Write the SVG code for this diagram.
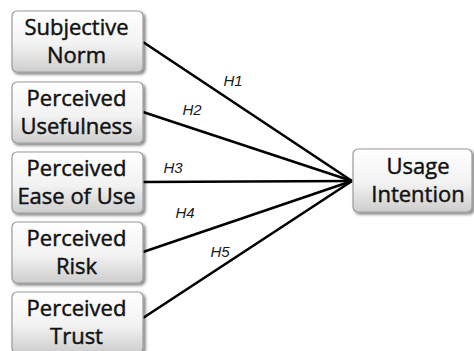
<svg xmlns="http://www.w3.org/2000/svg" width="474" height="351" viewBox="0 0 474 351">
<defs>
<linearGradient id="g" x1="0" y1="0" x2="0" y2="1">
<stop offset="0" stop-color="#ffffff"/>
<stop offset="0.55" stop-color="#f2f2f2"/>
<stop offset="1" stop-color="#cdcdcd"/>
</linearGradient>
<filter id="sh" x="-10%" y="-10%" width="125%" height="130%">
<feGaussianBlur in="SourceAlpha" stdDeviation="1.5"/>
<feOffset dx="1.5" dy="2" result="b"/>
<feComponentTransfer><feFuncA type="linear" slope="0.5"/></feComponentTransfer>
<feMerge><feMergeNode/><feMergeNode in="SourceGraphic"/></feMerge>
</filter>
</defs>
<style>
.box{fill:url(#g);stroke:#9a9a9a;stroke-width:1.2;filter:url(#sh)}
.t{font-family:"Open Sans","Noto Sans",sans-serif;font-size:22px;fill:#111;stroke:#111;stroke-width:0.45;text-anchor:middle}
.c{stroke:#000;stroke-width:2.6;fill:none}
.h{font-family:"Liberation Sans",Arial,sans-serif;font-size:15px;font-style:italic;fill:#1a1a1a;text-anchor:middle}
</style>
<rect width="474" height="351" fill="#ffffff"/>
<g id="connectors">
<line class="c" x1="143" y1="42" x2="352" y2="181"/>
<line class="c" x1="143" y1="112" x2="352" y2="181"/>
<line class="c" x1="143" y1="182" x2="352" y2="181"/>
<line class="c" x1="143" y1="252" x2="352" y2="181"/>
<line class="c" x1="143" y1="318" x2="352" y2="181"/>
<text class="h" x="233" y="86">H1</text>
<text class="h" x="192" y="115">H2</text>
<text class="h" x="173" y="173">H3</text>
<text class="h" x="185" y="218">H4</text>
<text class="h" x="220" y="257">H5</text>
</g>
<g id="n1"><rect class="box" x="12" y="11" width="131" height="61" rx="5"/><text class="t" x="76.5" y="35">Subjective</text><text class="t" x="76.5" y="63">Norm</text></g>
<g id="n2"><rect class="box" x="12" y="82" width="131" height="61" rx="5"/><text class="t" x="76.5" y="106">Perceived</text><text class="t" x="76.5" y="134">Usefulness</text></g>
<g id="n3"><rect class="box" x="12" y="152" width="131" height="61" rx="5"/><text class="t" x="76.5" y="176">Perceived</text><text class="t" x="76.5" y="204">Ease of Use</text></g>
<g id="n4"><rect class="box" x="12" y="222" width="131" height="61" rx="5"/><text class="t" x="76.5" y="246">Perceived</text><text class="t" x="76.5" y="274">Risk</text></g>
<g id="n5"><rect class="box" x="12" y="292" width="131" height="61" rx="5"/><text class="t" x="76.5" y="316">Perceived</text><text class="t" x="76.5" y="344">Trust</text></g>
<g id="n6"><rect class="box" x="353" y="149" width="119" height="63" rx="5"/><text class="t" x="418" y="174">Usage</text><text class="t" x="418" y="202">Intention</text></g>
</svg>
